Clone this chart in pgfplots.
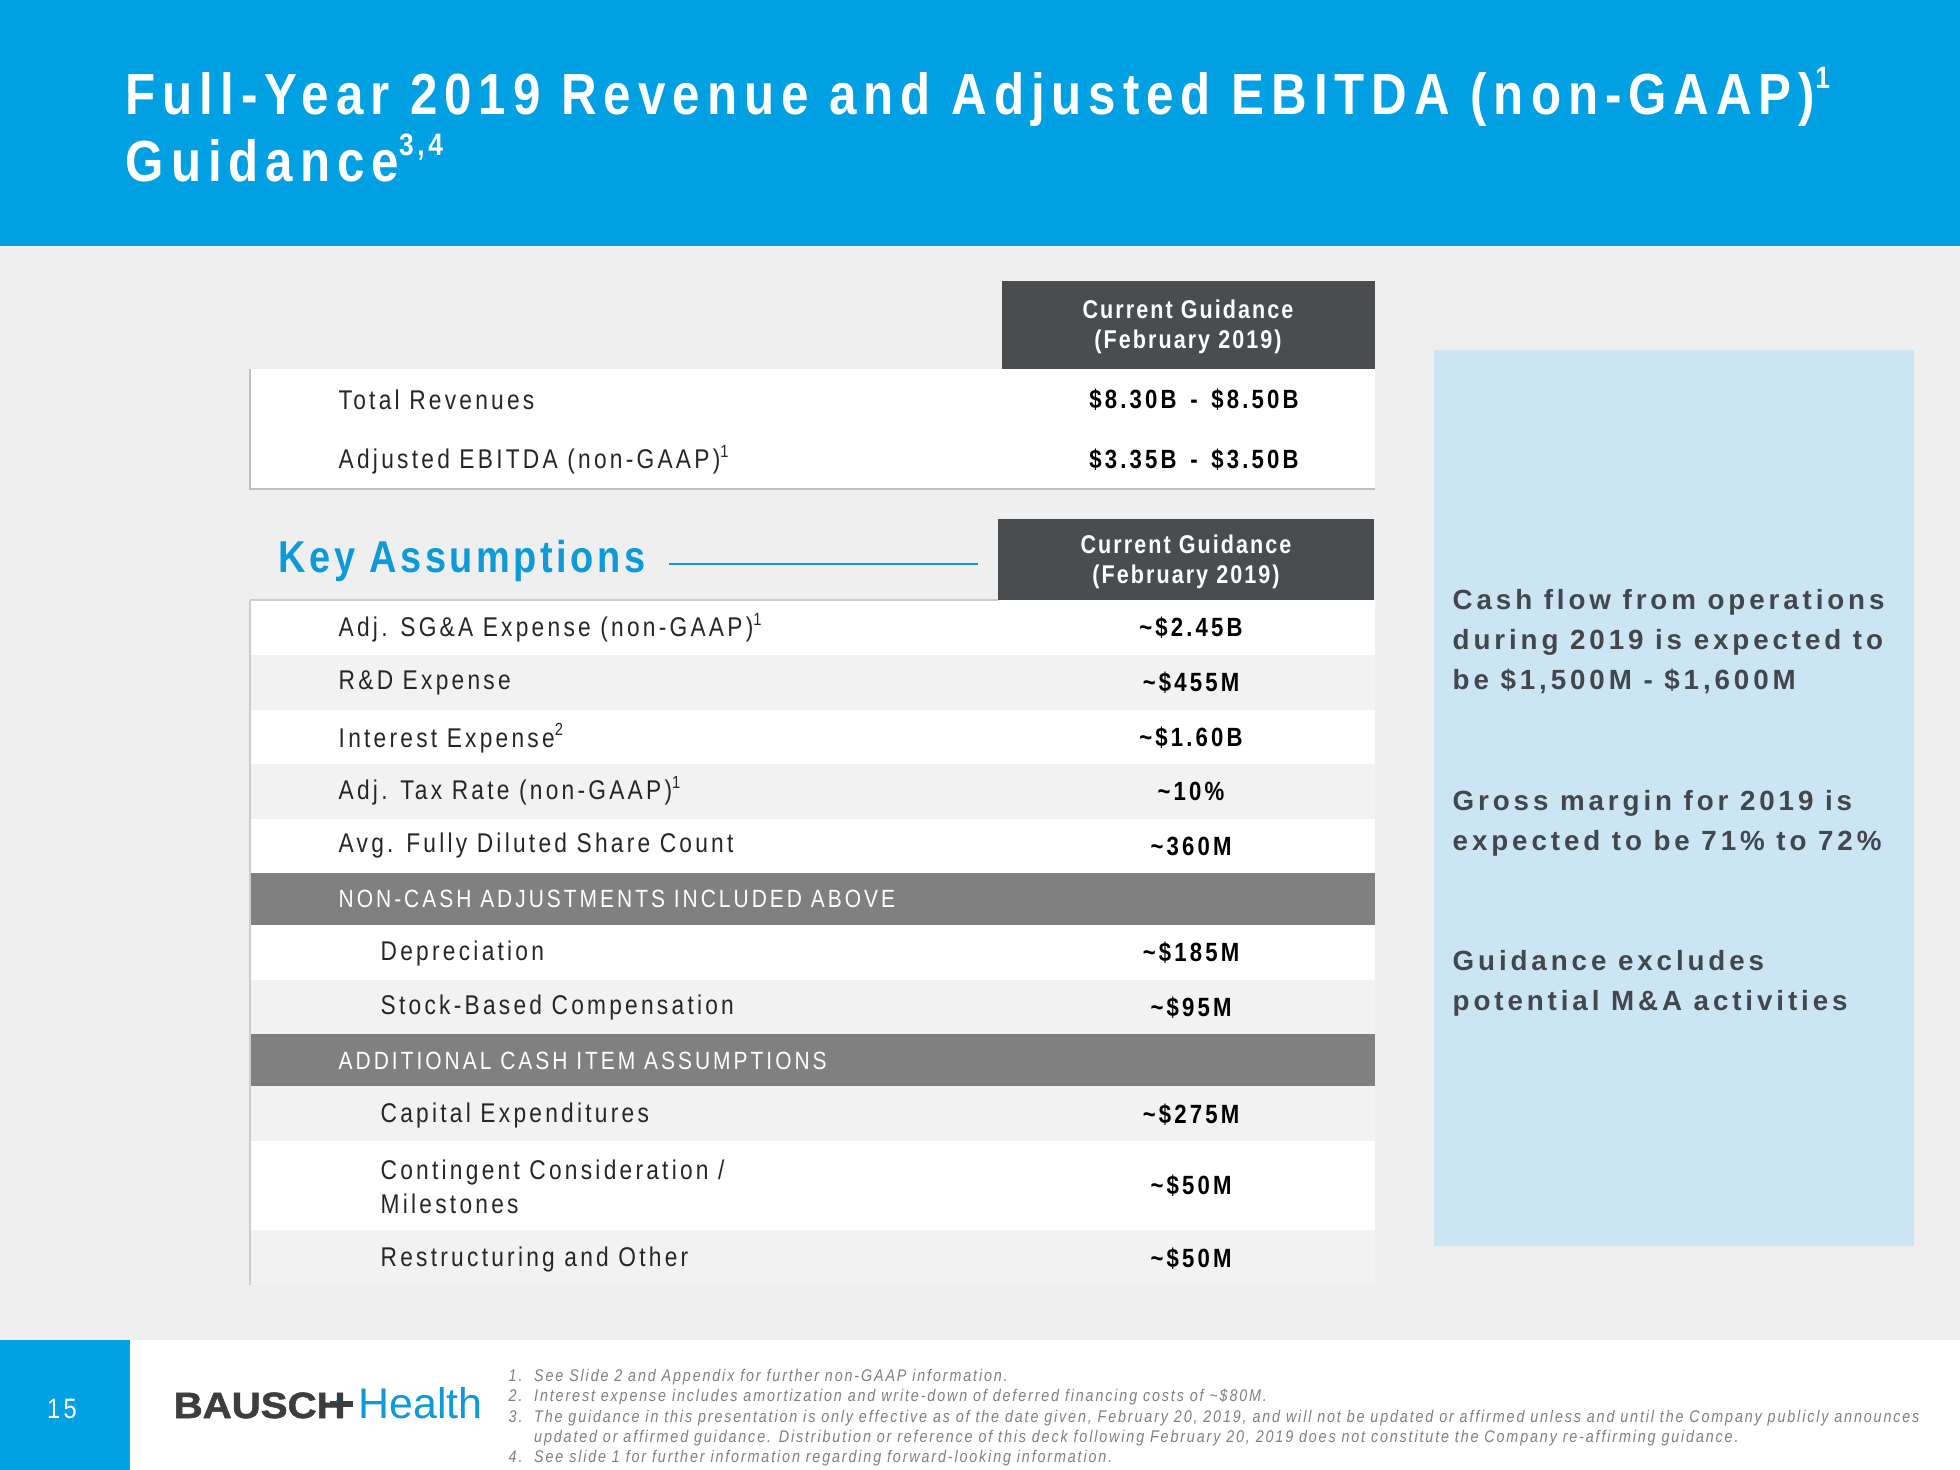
\documentclass[border=0pt]{standalone}
\usepackage{pgfplots}
\pgfplotsset{compat=1.18}
\usepackage{fontspec}
\setmainfont{Liberation Sans}
\newfontfamily\titlefont{Liberation Sans}[FakeStretch=0.85,LetterSpace=12]
\newfontfamily\nar{Liberation Sans}[FakeStretch=0.84,LetterSpace=12]
\newfontfamily\hdrfont{Liberation Sans}[FakeStretch=0.84,LetterSpace=8]
\newfontfamily\keyfont{Liberation Sans}[FakeStretch=0.85,LetterSpace=8]
\newfontfamily\wide{Liberation Sans}[LetterSpace=14]
\newfontfamily\foot{Liberation Sans}[FakeStretch=0.85,LetterSpace=11]
\newfontfamily\logofont{Liberation Sans}[FakeStretch=1.1,FakeBold=1.5]
\definecolor{bandblue}{HTML}{00A0E2}
\definecolor{hdrgrey}{HTML}{4A4D50}
\definecolor{secgrey}{HTML}{808080}
\definecolor{rowgrey}{HTML}{F2F2F2}
\definecolor{boxblue}{HTML}{CCE5F5}
\definecolor{keyblue}{HTML}{0E9AD8}
\definecolor{bg}{HTML}{EFEFEF}
\definecolor{labtxt}{HTML}{262626}
\definecolor{boxtxt}{HTML}{42474C}
\definecolor{foottxt}{HTML}{808080}
\definecolor{logogrey}{HTML}{3D3D3D}
\newcommand\rect[5]{\addplot[fill=#1,draw=none,forget plot] coordinates {(#2,#3) (#4,#3) (#4,#5) (#2,#5)} -- cycle;}
\newcommand\supn[1]{\raisebox{0.42em}{\fontsize{5}{5}\selectfont #1}}
\tikzset{lab/.style={anchor=west,inner sep=0pt,text=labtxt,font=\nar\fontsize{7.7}{9.6}\selectfont},
         val/.style={text=black,font=\nar\bfseries\fontsize{7.5}{9}\selectfont},
         sec/.style={anchor=west,inner sep=0pt,text=white,font=\nar\fontsize{7.1}{8}\selectfont},
         hdr/.style={align=center,text=white,font=\hdrfont\bfseries\fontsize{7.3}{8.5}\selectfont},
         rbox/.style={anchor=west,inner sep=0pt,align=left,text=boxtxt,font=\wide\bfseries\fontsize{7.9}{11.4}\selectfont}}
\begin{document}
\begin{tikzpicture}
\begin{axis}[width=19.6cm,height=14.7cm,scale only axis,xmin=0,xmax=1960,ymin=0,ymax=1470,
  y dir=reverse,hide axis,clip=false]
% background
\rect{bg}{0}{0}{1960}{1470}
\rect{bandblue}{0}{0}{1960}{246}
% table 1
\rect{hdrgrey}{1002}{281}{1375}{369}
\rect{white}{250}{369}{1375}{489}
\addplot[draw=black!25,line width=0.6pt,forget plot] coordinates {(250,369) (250,489) (1375,489)};
% table 2
\rect{hdrgrey}{998}{519}{1374}{600}
\rect{white}{250}{600}{1375}{655}
\rect{rowgrey}{250}{655}{1375}{710}
\rect{white}{250}{710}{1375}{764}
\rect{rowgrey}{250}{764}{1375}{819}
\rect{white}{250}{819}{1375}{873}
\rect{secgrey}{250}{873}{1375}{925}
\rect{white}{250}{925}{1375}{980}
\rect{rowgrey}{250}{980}{1375}{1034}
\rect{secgrey}{250}{1034}{1375}{1086}
\rect{rowgrey}{250}{1086}{1375}{1141}
\rect{white}{250}{1141}{1375}{1230}
\rect{rowgrey}{250}{1230}{1375}{1285}
\addplot[draw=black!20,line width=0.5pt,forget plot] coordinates {(250,600) (250,1285)};
\addplot[draw=black!20,line width=0.5pt,forget plot] coordinates {(250,600) (998,600)};
% key assumptions line
\addplot[draw=keyblue,line width=0.7pt,forget plot] coordinates {(669,564) (978,564)};
% right box
\rect{boxblue}{1434}{350}{1914}{1246}
% footer
\rect{white}{0}{1340}{1960}{1470}
\rect{bandblue}{0}{1340}{130}{1470}
% logo bar
\rect{logogrey}{330}{1401}{353}{1407}
\rect{keyblue}{336}{1400}{343}{1408}

% title
\node[anchor=base west,inner sep=0pt,text=white,font=\titlefont\bfseries\fontsize{16.5}{18}\selectfont] at (125,115)
  {Full-Year 2019 Revenue and Adjusted EBITDA (non-GAAP)\raisebox{0.45em}{\fontsize{8.8}{9}\selectfont 1}};
\node[anchor=base west,inner sep=0pt,text=white,font=\titlefont\bfseries\fontsize{16.5}{18}\selectfont] at (125,182)
  {Guidance\raisebox{0.45em}{\fontsize{8.8}{9}\selectfont 3,4}};

% headers
\node[hdr] at (1188,327) {Current Guidance\\(February 2019)};
\node[hdr] at (1186,562) {Current Guidance\\(February 2019)};

% table 1 text
\node[lab] at (338,400) {Total Revenues};
\node[lab] at (338,460) {Adjusted EBITDA (non-GAAP)\supn{1}};
\node[val] at (1194,400) {\$8.30B \,-\, \$8.50B};
\node[val] at (1194,460) {\$3.35B \,-\, \$3.50B};

% key assumptions
\node[anchor=west,inner sep=0pt,text=keyblue,font=\keyfont\bfseries\fontsize{12.7}{14}\selectfont] at (278,561) {Key Assumptions};

% table 2
\node[lab] at (338,628) {Adj. SG\&A Expense (non-GAAP)\supn{1}};
\node[lab] at (338,683) {R\&D Expense};
\node[lab] at (338,738) {Interest Expense\supn{2}};
\node[lab] at (338,791) {Adj. Tax Rate (non-GAAP)\supn{1}};
\node[lab] at (338,846) {Avg. Fully Diluted Share Count};
\node[sec] at (338,899) {NON-CASH ADJUSTMENTS INCLUDED ABOVE};
\node[lab] at (380,953) {Depreciation};
\node[lab] at (380,1008) {Stock-Based Compensation};
\node[sec] at (338,1061) {ADDITIONAL CASH ITEM ASSUMPTIONS};
\node[lab] at (380,1115) {Capital Expenditures};
\node[lab,align=left] at (380,1187) {Contingent Consideration /\\Milestones};
\node[lab] at (380,1259) {Restructuring and Other};

\node[val] at (1191,628) {\textasciitilde\$2.45B};
\node[val] at (1191,683) {\textasciitilde\$455M};
\node[val] at (1191,738) {\textasciitilde\$1.60B};
\node[val] at (1191,791) {\textasciitilde10\%};
\node[val] at (1191,846) {\textasciitilde360M};
\node[val] at (1191,953) {\textasciitilde\$185M};
\node[val] at (1191,1008) {\textasciitilde\$95M};
\node[val] at (1191,1115) {\textasciitilde\$275M};
\node[val] at (1191,1186) {\textasciitilde\$50M};
\node[val] at (1191,1259) {\textasciitilde\$50M};

% right box text
\node[rbox] at (1452,642) {Cash flow from operations\\during 2019 is expected to\\be \$1,500M - \$1,600M};
\node[rbox] at (1452,823) {Gross margin for 2019 is\\expected to be 71\% to 72\%};
\node[rbox] at (1452,983) {Guidance excludes\\potential M\&A activities};

% footer
\node[text=white,font=\nar\fontsize{8}{9}\selectfont] at (62,1409) {15};
\node[anchor=base west,text=logogrey,font=\logofont\bfseries\fontsize{10.4}{12}\selectfont,inner sep=0pt] at (173,1418) {BAUSCH};
\node[anchor=base west,text=keyblue,font=\fontsize{12.2}{13}\selectfont,inner sep=0pt] at (358,1418) {Health};
\node[anchor=north west,align=left,text=foottxt,font=\foot\itshape\fontsize{4.8}{5.7}\selectfont,inner sep=0pt] at (508,1369)
  {1.\ \ See Slide 2 and Appendix for further non-GAAP information.\\
   2.\ \ Interest expense includes amortization and write-down of deferred financing costs of \textasciitilde\$80M.\\
   3.\ \ The guidance in this presentation is only effective as of the date given, February 20, 2019, and will not be updated or affirmed unless and until the Company publicly announces\\
   \phantom{3.\ \ }updated or affirmed guidance. Distribution or reference of this deck following February 20, 2019 does not constitute the Company re-affirming guidance.\\
   4.\ \ See slide 1 for further information regarding forward-looking information.};
\end{axis}
\end{tikzpicture}
\end{document}
